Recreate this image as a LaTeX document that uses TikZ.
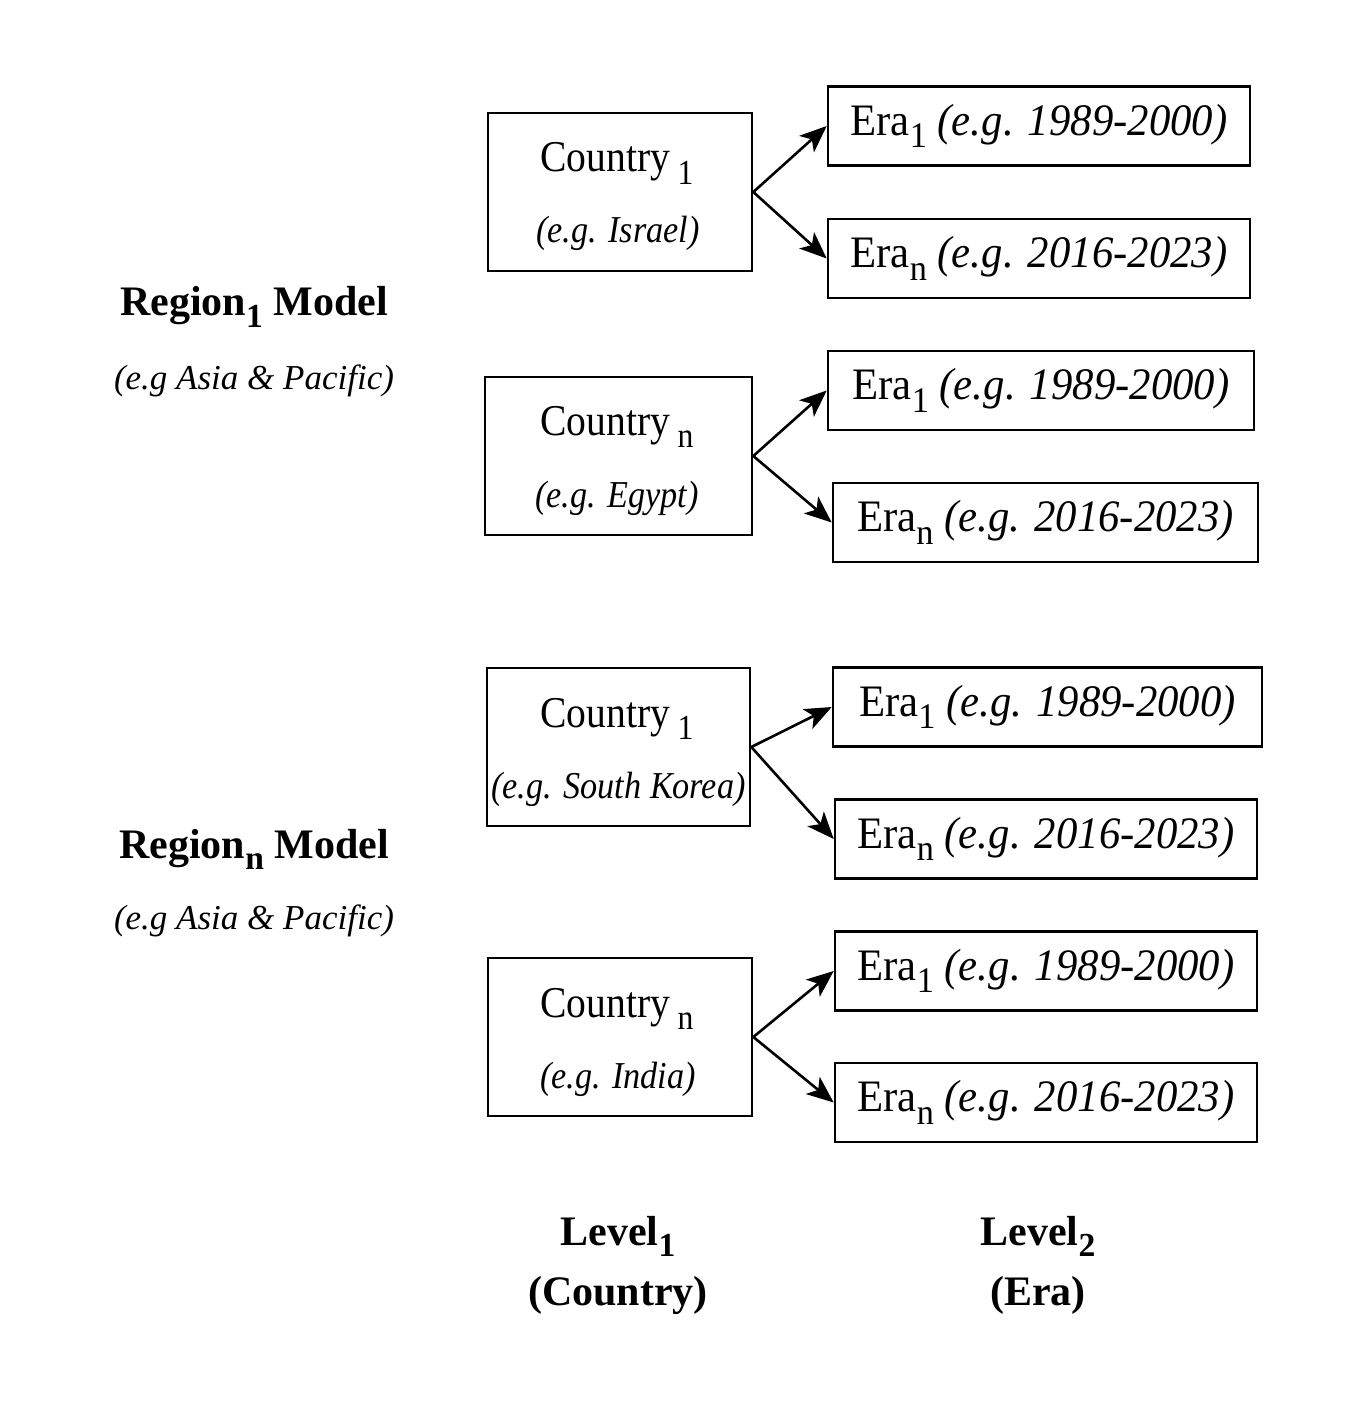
\documentclass[tikz,border=0pt]{standalone}
\usepackage{fontspec}
\setmainfont{Liberation Serif}
\newfontfamily\condf{Liberation Serif}[FakeStretch=0.9]
\newfontfamily\erafont{Liberation Serif}[FakeStretch=0.95]
\usepackage{graphicx}
\usetikzlibrary{arrows.meta}
\newcommand\lsub[1]{\raisebox{-0.28em}{\scalebox{0.8}{#1}}}
\begin{document}
\begin{tikzpicture}[x=1pt,y=-1pt,
  cbox/.style={draw, line width=2.6pt, inner sep=0pt},
  ebox/.style={draw, line width=2.6pt, inner sep=0pt, minimum height=79pt,
    font=\erafont\fontsize{45}{52}\selectfont},
  ctext/.style={anchor=base, inner sep=0pt, font=\condf\fontsize{44}{52}\selectfont},
  cit/.style={anchor=base, inner sep=0pt, font=\condf\fontsize{38}{44}\selectfont\itshape},
  rtext/.style={anchor=base, inner sep=0pt, font=\fontsize{42}{50}\selectfont\bfseries},
  rit/.style={anchor=base, inner sep=0pt, font=\fontsize{35}{42}\selectfont\itshape},
  arr/.style={line width=2.6pt, -{Stealth[length=27pt,width=22pt,inset=7pt]}}]
\useasboundingbox (0,0) rectangle (1346,1404);

% Region labels
\node[rtext] (r1) at (254,316) {Region\lsub{1} Model};
\node[rit] (r1e) at (254,389) {(e.g Asia \& Pacific)};
\node[rtext] (rn) at (254,858) {Region\lsub{n} Model};
\node[rit] (rne) at (254,929) {(e.g Asia \& Pacific)};

% Group 1
\node[cbox, minimum width=264pt, minimum height=158pt] (c1) at (620,192) {};
\node[ctext] (c1t) at (617,172) {Country\,\lsub{1}};
\node[cit] (c1e) at (618,243) {(e.g. Israel)};
\node[ebox, minimum width=422pt] (e11) at (1039,126) {Era\lsub{1} {\itshape (e.g. 1989-2000)}};
\node[ebox, minimum width=422pt] (e1n) at (1039,258.5) {Era\lsub{n} {\itshape (e.g. 2016-2023)}};
\draw[arr] (c1.east) -- (e11.west);
\draw[arr] (c1.east) -- (e1n.west);

% Group 2
\node[cbox, minimum width=267pt, minimum height=158pt] (c2) at (618.5,456) {};
\node[ctext] (c2t) at (617,435) {Country\,\lsub{n}};
\node[cit] (c2e) at (617,507) {(e.g. Egypt)};
\node[ebox, minimum width=426pt] (e21) at (1041,390.5) {Era\lsub{1} {\itshape (e.g. 1989-2000)}};
\node[ebox, minimum width=425pt] (e2n) at (1045.5,522.5) {Era\lsub{n} {\itshape (e.g. 2016-2023)}};
\draw[arr] (c2.east) -- (e21.west);
\draw[arr] (c2.east) -- (e2n.west);

% Group 3
\node[cbox, minimum width=263pt, minimum height=158pt] (c3) at (618.5,747) {};
\node[ctext] (c3t) at (617,727) {Country\,\lsub{1}};
\node[cit] (c3e) at (618.5,798) {(e.g. South Korea)};
\node[ebox, minimum width=429pt] (e31) at (1047.5,707) {Era\lsub{1} {\itshape (e.g. 1989-2000)}};
\node[ebox, minimum width=422pt] (e3n) at (1046,839) {Era\lsub{n} {\itshape (e.g. 2016-2023)}};
\draw[arr] (c3.east) -- (e31.west);
\draw[arr] (c3.east) -- (e3n.west);

% Group 4
\node[cbox, minimum width=264pt, minimum height=158pt] (c4) at (620,1037) {};
\node[ctext] (c4t) at (617,1017) {Country\,\lsub{n}};
\node[cit] (c4e) at (618,1088) {(e.g. India)};
\node[ebox, minimum width=422pt] (e41) at (1046,971) {Era\lsub{1} {\itshape (e.g. 1989-2000)}};
\node[ebox, minimum width=422pt] (e4n) at (1046,1102.5) {Era\lsub{n} {\itshape (e.g. 2016-2023)}};
\draw[arr] (c4.east) -- (e41.west);
\draw[arr] (c4.east) -- (e4n.west);

% Level labels
\node[rtext] (l1) at (618,1245) {Level\lsub{1}};
\node[rtext] (l1b) at (618,1305) {(Country)};
\node[rtext] (l2) at (1038,1245) {Level\lsub{2}};
\node[rtext] (l2b) at (1038,1305) {(Era)};
\end{tikzpicture}
\end{document}
